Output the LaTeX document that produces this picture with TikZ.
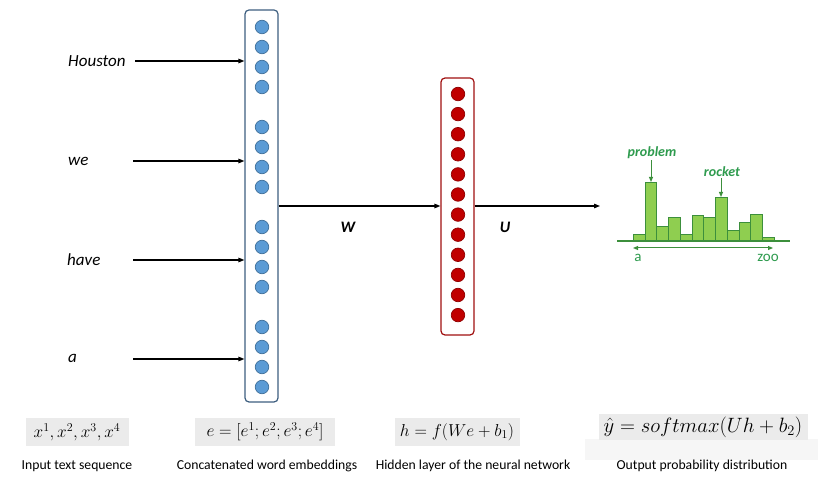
\documentclass[tikz,border=0pt]{standalone}
\usepackage{fontspec}
\newfontfamily\carl{Carlito}
\usetikzlibrary{arrows.meta}
\definecolor{bluefill}{HTML}{5B9BD5}
\definecolor{blueline}{HTML}{41719C}
\definecolor{boxblue}{HTML}{3E5F80}
\definecolor{redfill}{HTML}{C00000}
\definecolor{redline}{HTML}{900000}
\definecolor{boxred}{HTML}{A01010}
\definecolor{barfill}{HTML}{8FCE50}
\definecolor{barline}{HTML}{3C8F3C}
\definecolor{gtext}{HTML}{2E9B4E}
\definecolor{fbg}{HTML}{EBEBEB}
\definecolor{blur}{HTML}{F6F6F6}
\tikzset{
  arr/.style={line width=1.2pt,-{Triangle[length=6pt,width=4.5pt]}},
  word/.style={anchor=west,inner sep=0pt,font=\carl\itshape\fontsize{17}{19}\selectfont},
  wlab/.style={inner sep=0pt,font=\carl\bfseries\itshape\fontsize{16}{18}\selectfont},
  bdot/.style={circle,fill=bluefill,draw=blueline,line width=0.7pt,minimum size=13.5pt,inner sep=0pt},
  rdot/.style={circle,fill=redfill,draw=redline,line width=0.7pt,minimum size=13.5pt,inner sep=0pt},
  layerbox/.style={rounded corners=4pt,line width=1.2pt,minimum width=33pt,inner sep=0pt},
  formula/.style={fill=fbg,inner sep=0pt,font=\fontsize{18}{20}\selectfont},
  caption/.style={inner sep=0pt,font=\carl\fontsize{13.7}{15}\selectfont},
  bar/.style={fill=barfill,draw=barline,line width=0.9pt},
  gl/.style={inner sep=0pt,text=gtext,font=\carl\bfseries\itshape\fontsize{14}{16}\selectfont},
  gax/.style={inner sep=0pt,text=gtext,font=\carl\fontsize{15}{17}\selectfont},
  garr/.style={draw=barline,line width=1pt,-{Triangle[length=5pt,width=4pt]}}
}
\begin{document}
\begin{tikzpicture}[x=1pt,y=-1pt]
\useasboundingbox (0,0) rectangle (828,486);
\fill[white] (0,0) rectangle (828,486);

% embedding layer
\node[layerbox,draw=boxblue,minimum height=392pt] (emb) at (261.5,206) {};
\foreach \y [count=\i] in {27,47,67,87,127,147,167,187,227,247,267,287,327,347,367,387}
  \node[bdot] (e\i) at (262,\y) {};

% hidden layer
\node[layerbox,draw=boxred,minimum height=257pt] (hid) at (457.5,206.5) {};
\foreach \i in {0,...,11}
  \node[rdot] (h\i) at (458,{94+20.1*\i}) {};

% input words
\node[word] (w1) at (68,61) {Houston};
\node[word] (w2) at (68,161) {we};
\node[word] (w3) at (67,260) {have};
\node[word] (w4) at (68,358) {a};
\coordinate (s1) at (135,61);
\coordinate (s2) at (133,161);
\coordinate (s3) at (133,260);
\coordinate (s4) at (133,359);
\draw[arr] (s1) -- (emb.west |- s1);
\draw[arr] (s2) -- (emb.west |- s2);
\draw[arr] (s3) -- (emb.west |- s3);
\draw[arr] (s4) -- (emb.west |- s4);

% W and U
\draw[arr] (emb.east |- 0,206) -- (hid.west |- 0,206);
\node[wlab] (W) at (348,227) {W};
\coordinate (outend) at (600,206);
\draw[arr] (hid.east |- outend) -- (outend);
\node[wlab] (U) at (505,227) {U};

% histogram
\foreach \t [count=\i from 0] in {234,182,226,217,234,215,217,197,230,222,214,237}
  \draw[bar] ({633.3+11.75*\i},241) rectangle ({633.3+11.75*(\i+1)},\t);
\draw[barline,line width=1.6pt] (617,241) -- (790,241);
\coordinate (al) at (633,248);
\coordinate (ar) at (773,248);
\draw[draw=barline,line width=1pt,{Triangle[length=5pt,width=4pt]}-{Triangle[length=5pt,width=4pt]}] (al) -- (ar);
\node[gax] (ta) at (638,258) {a};
\node[gax] (tz) at (768,258) {zoo};
\node[gl] (pb) at (652,153) {problem};
\node[gl] (rk) at (722,172) {rocket};
\coordinate (pbt) at (651,182);
\coordinate (rkt) at (721,197);
\draw[garr] (pb.south -| pbt) ++(0,1) -- (pbt);
\draw[garr] (rk.south -| rkt) ++(0,1) -- (rkt);

% faint blur under last formula
\fill[blur] (585,439) rectangle (818,460);

% formulas
\node[formula,minimum width=103pt,minimum height=28pt] (f1) at (77,432) {$x^1,x^2,x^3,x^4$};
\node[formula,minimum width=140pt,minimum height=28pt] (f2) at (265,432) {$e=[e^1;e^2;e^3;e^4]$};
\node[formula,minimum width=125pt,minimum height=28pt] (f3) at (457,432) {$h=f(We+b_1)$};
\node[formula,minimum width=209pt,minimum height=26pt,font=\fontsize{20.5}{22}\selectfont] (f4) at (703,427) {$\hat{y}=softmax(Uh+b_2)$};

% captions
\node[caption] (c1) at (77,466) {Input text sequence};
\node[caption] (c2) at (267,466) {Concatenated word embeddings};
\node[caption] (c3) at (473,466) {Hidden layer of the neural network};
\node[caption] (c4) at (702,466) {Output probability distribution};
\end{tikzpicture}
\end{document}
